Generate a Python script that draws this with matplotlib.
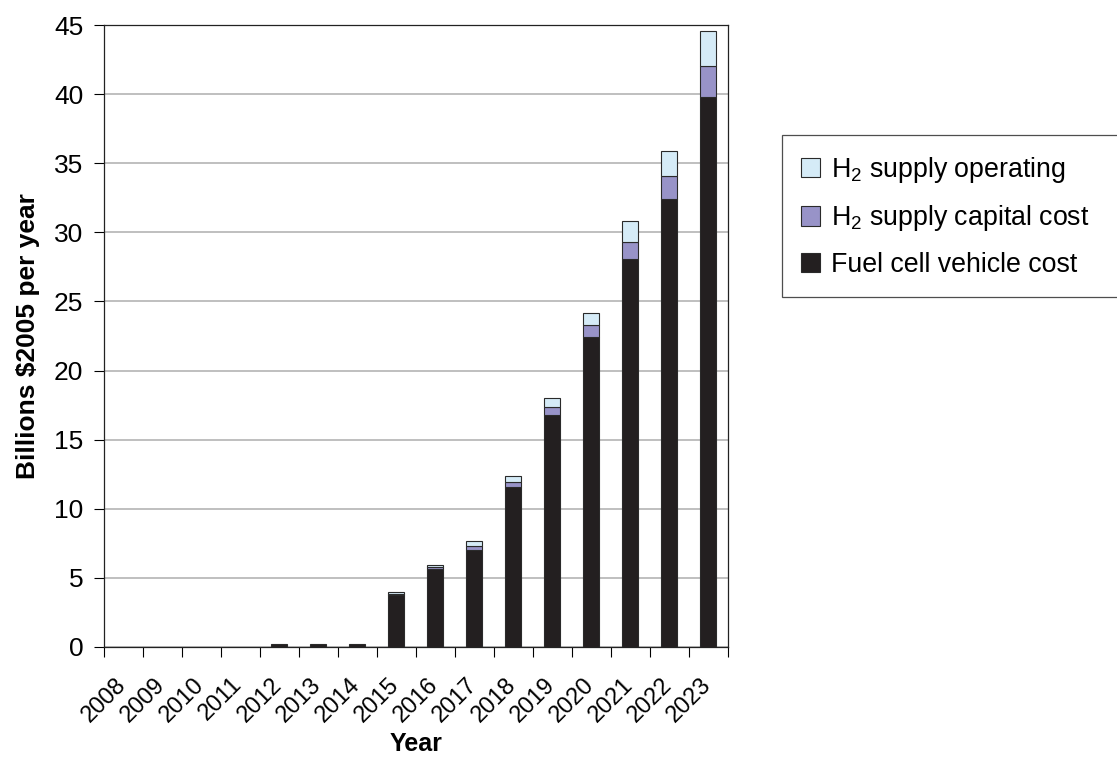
import numpy as np
import matplotlib
matplotlib.use('Agg')
import matplotlib.pyplot as plt
from matplotlib.patches import Patch

plt.rcParams['font.family'] = ['Liberation Sans', 'DejaVu Sans']
plt.rcParams['mathtext.fontset'] = 'custom'
plt.rcParams['mathtext.rm'] = 'Liberation Sans'

# Annual cost components, billions of 2005 dollars
years = ['2008', '2009', '2010', '2011', '2012', '2013', '2014', '2015',
         '2016', '2017', '2018', '2019', '2020', '2021', '2022', '2023']
vehicle_cost = [0, 0, 0, 0, 0.25, 0.25, 0.25, 3.75,
                5.65, 7.0, 11.55, 16.75, 22.4, 28.1, 32.4, 39.8]
capital_cost = [0, 0, 0, 0, 0, 0, 0, 0.05,
                0.15, 0.33, 0.4, 0.6, 0.9, 1.2, 1.7, 2.25]
operating_cost = [0, 0, 0, 0, 0, 0, 0, 0.2,
                  0.13, 0.32, 0.45, 0.7, 0.85, 1.55, 1.75, 2.5]

c_vehicle = '#231f20'
c_capital = '#9893c8'
c_operating = '#d5ebf7'
edge = '#2a2a2a'

fig = plt.figure(figsize=(11.17, 7.6), dpi=100)
ax = fig.add_axes([0.0931, 0.1487, 0.5586, 0.8184])

x = np.arange(len(years)) + 0.5
vehicle = np.array(vehicle_cost)
capital = np.array(capital_cost)
operating = np.array(operating_cost)
w = 0.41


def stack(vals, bottom, color):
    # skip empty segments so no outline is drawn at the baseline
    keep = vals > 0
    ax.bar(x[keep], vals[keep], w, bottom=bottom[keep], color=color,
           edgecolor=edge, linewidth=0.8, zorder=3)


stack(vehicle, np.zeros_like(vehicle), c_vehicle)
stack(capital, vehicle, c_capital)
stack(operating, vehicle + capital, c_operating)

ax.set_xlim(0, len(years))
ax.set_ylim(0, 45)
ax.set_yticks(range(0, 46, 5))
ax.set_xticks(range(len(years) + 1))
ax.set_xticklabels(years + [''], rotation=45, ha='center', va='top',
                   fontsize=17)
ax.tick_params(axis='y', labelsize=19, length=7, width=0.8, pad=8)
ax.tick_params(axis='x', length=7, width=0.8, pad=12)
ax.yaxis.grid(True, color='#b4b4b4', linewidth=1.2, zorder=0)
for s in ax.spines.values():
    s.set_linewidth(0.9)
    s.set_color('#222222')

ax.set_xlabel('Year', fontsize=18, fontweight='bold', labelpad=4)
ax.set_ylabel('Billions $2005 per year', fontsize=19, fontweight='bold',
              labelpad=10)

handles = [
    Patch(facecolor=c_operating, edgecolor=edge, linewidth=0.8,
          label=r'$\mathregular{H_2}$ supply operating'),
    Patch(facecolor=c_capital, edgecolor=edge, linewidth=0.8,
          label=r'$\mathregular{H_2}$ supply capital cost'),
    Patch(facecolor=c_vehicle, edgecolor=edge, linewidth=0.8,
          label='Fuel cell vehicle cost'),
]
leg = fig.legend(handles=handles, loc='upper left',
                 bbox_to_anchor=(0.7, 0.609, 0.31, 0.213), mode='expand',
                 fontsize=19.3, frameon=True, fancybox=False,
                 handlelength=0.72, handleheight=0.72, handletextpad=0.4,
                 labelspacing=0.7, borderpad=0.72, borderaxespad=0)
leg.get_frame().set_edgecolor('#222222')
leg.get_frame().set_linewidth(0.9)

fig.savefig('out.png', dpi=100)
